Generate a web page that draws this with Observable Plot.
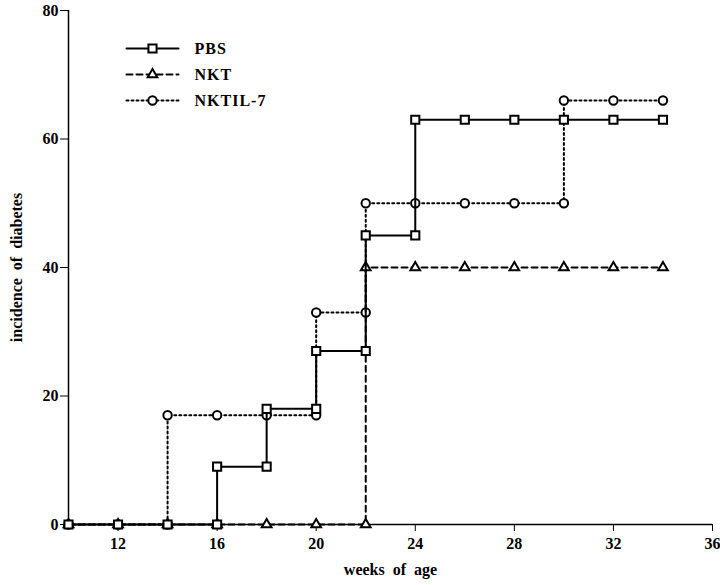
<!DOCTYPE html>
<html>
<head>
<meta charset="utf-8">
<script src="https://cdn.jsdelivr.net/npm/d3@7"></script>
<script src="https://cdn.jsdelivr.net/npm/@observablehq/plot@0.6"></script>
<style>
  html, body { margin: 0; padding: 0; background: #fff; }
  #wrap { position: relative; width: 720px; height: 585px; }
  #legend { position: absolute; left: 0; top: 0; }
  svg { font-family: "Liberation Serif", "Times New Roman", serif; }
</style>
</head>
<body>
<div id="wrap"><div id="chart"></div><div id="legend"></div></div>
<script>
// Series (weeks of age, incidence of diabetes %), corner points of the step curves
const pbsWeeks = [10, 12, 14, 16, 16, 18, 18, 20, 20, 22, 22, 24, 24, 26, 28, 30, 32, 34];
const pbsValues = [0, 0, 0, 0, 9, 9, 18, 18, 27, 27, 45, 45, 63, 63, 63, 63, 63, 63];

const nktWeeks = [10, 12, 14, 16, 18, 20, 22, 22, 24, 26, 28, 30, 32, 34];
const nktValues = [0, 0, 0, 0, 0, 0, 0, 40, 40, 40, 40, 40, 40, 40];

const nktil7Weeks = [10, 12, 14, 14, 16, 18, 20, 20, 22, 22, 24, 26, 28, 30, 30, 32, 34];
const nktil7Values = [0, 0, 0, 17, 17, 17, 17, 33, 33, 50, 50, 50, 50, 50, 66, 66, 66];

const xTicks = [12, 16, 20, 24, 28, 32, 36];
const yTicks = [0, 20, 40, 60, 80];
const seriesNames = ["PBS", "NKT", "NKTIL-7"];

const toRows = (w, v) => w.map((x, i) => ({x, y: v[i]}));
const pbs = toRows(pbsWeeks, pbsValues);
const nkt = toRows(nktWeeks, nktValues);
const nktil7 = toRows(nktil7Weeks, nktil7Values);

const styles = {
  "PBS": {dash: null, symbol: "square", r: 4.6},
  "NKT": {dash: "6,4", symbol: "triangle", r: 3.6},
  "NKTIL-7": {dash: "2,3", symbol: "circle", r: 4.2}
};

function seriesMarks(data, name) {
  const s = styles[name];
  return [
    Plot.line(data, {x: "x", y: "y", stroke: "#000", strokeWidth: 2, strokeDasharray: s.dash}),
    Plot.dot(data, {x: "x", y: "y", symbol: s.symbol, r: s.r, stroke: "#000", strokeWidth: 2, fill: "#fff"})
  ];
}

const chart = Plot.plot({
  width: 720,
  height: 585,
  marginLeft: 68,
  marginRight: 8,
  marginTop: 10,
  marginBottom: 61,
  style: {fontFamily: '"Liberation Serif", "Times New Roman", serif', fontSize: "16px", fontWeight: "bold", color: "#000"},
  x: {domain: [10, 36]},
  y: {domain: [0, 80]},
  marks: [
    Plot.axisX({ticks: xTicks, tickSize: 7, tickPadding: 6, tickFormat: d => d,
      label: "weeks  of  age", labelAnchor: "center", labelOffset: 50, labelArrow: "none", fontSize: 16, fontWeight: "bold"}),
    Plot.axisY({ticks: yTicks, tickSize: 8, tickPadding: 2, tickFormat: d => d,
      label: "incidence  of  diabetes", labelAnchor: "center", labelOffset: 58, labelArrow: "none", fontSize: 16, fontWeight: "bold"}),
    Plot.ruleX([10], {strokeWidth: 1.5}),
    Plot.ruleY([0], {strokeWidth: 1.5}),
    ...seriesMarks(nktil7, "NKTIL-7"),
    ...seriesMarks(nkt, "NKT"),
    ...seriesMarks(pbs, "PBS")
  ]
});
document.getElementById("chart").appendChild(chart);

// Legend
const legendMarks = [];
for (const name of seriesNames) {
  const s = styles[name];
  const row = [{name, x: 0}, {name, x: 1}];
  legendMarks.push(Plot.line(row, {x: "x", y: "name", stroke: "#000", strokeWidth: 2, strokeDasharray: s.dash}));
  legendMarks.push(Plot.dot([{name, x: 0.5}], {x: "x", y: "name", symbol: s.symbol, r: s.r, stroke: "#000", strokeWidth: 2, fill: "#fff"}));
  legendMarks.push(Plot.text([{name, x: 1}], {x: "x", y: "name", text: "name", textAnchor: "start", dx: 16, fontSize: 16, fontWeight: "bold", fill: "#000"}));
}
const legend = Plot.plot({
  width: 300,
  height: 120,
  style: {fontFamily: '"Liberation Serif", "Times New Roman", serif', background: "transparent", letterSpacing: "1px"},
  x: {domain: [0, 1], range: [126, 178], axis: null},
  y: {type: "point", domain: seriesNames, range: [48, 100], padding: 0, axis: null},
  marks: legendMarks
});
document.getElementById("legend").appendChild(legend);
</script>
</body>
</html>
